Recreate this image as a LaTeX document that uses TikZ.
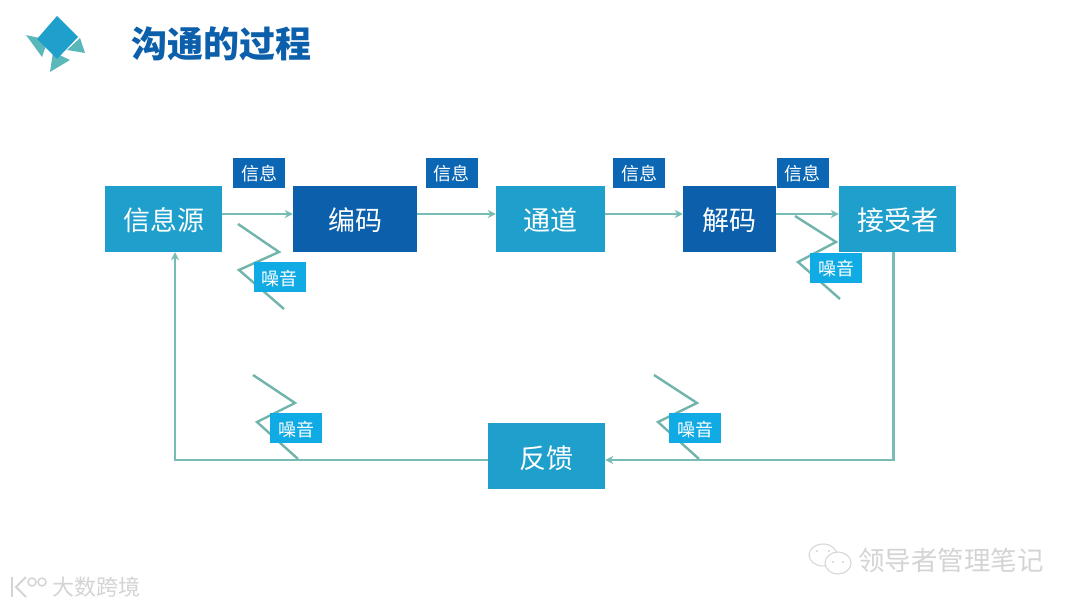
\documentclass[tikz,border=0pt]{standalone}
\usepackage{fontspec}
\setmainfont{Noto Sans CJK SC}
\newfontfamily\titlefont{Noto Sans CJK SC Black}
\usepackage{xcolor}
\usetikzlibrary{arrows.meta, calc}
\definecolor{boxlight}{HTML}{1F9FCB}
\definecolor{boxdark}{HTML}{0B5FAB}
\definecolor{tagdark}{HTML}{0B66B4}
\definecolor{tagnoise}{HTML}{10ABE5}
\definecolor{flowline}{HTML}{77BDB5}
\definecolor{logoteal}{HTML}{5BB8BA}
\definecolor{marktext}{HTML}{D4D4D4}

\begin{document}
\begin{tikzpicture}[
        x=1pt, y=-1pt,
        stage/.style={rectangle, fill=boxlight, text=white, minimum height=66pt, inner sep=0pt, text height=24pt, text depth=0pt, font={\fontsize{27}{30}\selectfont}},
        coder/.style={stage, fill=boxdark},
        msgtag/.style={rectangle, fill=tagdark, text=white, minimum width=52pt, minimum height=30pt, inner sep=0pt, text height=16pt, text depth=0pt, font={\fontsize{18}{22}\selectfont}},
        noisetag/.style={msgtag, fill=tagnoise},
        arrow/.style={line width=2.4pt, flowline, -{Stealth[length=8pt,width=8pt]}},
        zigzag/.style={line width=2.4pt, flowline!95!black},
        wmark/.style={text=marktext, inner sep=0pt}
    ]
        \useasboundingbox [fill=white] (0,0) rectangle (1080,607);

        % Logo and title
        \fill [logoteal] (26,35) -- (42,57) -- (48,40) -- cycle;
        \fill [logoteal] (85,53) -- (80,38) -- (67,50) -- cycle;
        \fill [logoteal] (50,72) -- (70,60) -- (53,52) -- cycle;
        \fill [boxlight] (57,16) -- (78,37) -- (57,59) -- (37,39) -- cycle;
        \node (title) [anchor=west, text=boxdark, inner sep=0pt, font={\fontsize{36}{40}\titlefont}] at (131,44) {沟通的过程};

        % Stages (Top Row)
        \node (source) [stage, minimum width=117pt] at (163.5,219) {信息源};
        \node (encode) [coder, minimum width=124pt] at (355,219) {编码};
        \node (channel) [stage, minimum width=109pt] at (550.5,219) {通道};
        \node (decode) [coder, minimum width=93pt] at (729.5,219) {解码};
        \node (receiver) [stage, minimum width=117pt] at (897.5,219) {接受者};

        % Feedback
        \node (feedback) [stage, minimum width=117pt] at (546.5,456) {反馈};

        % Message tags
        \node (msg1) [msgtag] at (259,173) {信息};
        \node (msg2) [msgtag] at (451.5,173) {信息};
        \node (msg3) [msgtag] at (639,173) {信息};
        \node (msg4) [msgtag] at (802.5,173) {信息};

        % Flows - Top row
        \draw [arrow] ([yshift=5pt]source.east) -- ([yshift=5pt]encode.west);
        \draw [arrow] ([yshift=5pt]encode.east) -- ([yshift=5pt]channel.west);
        \draw [arrow] ([yshift=5pt]channel.east) -- ([yshift=5pt]decode.west);
        \draw [arrow] ([yshift=5pt]decode.east) -- ([yshift=5pt]receiver.west);

        % Flows - Feedback loop
        \draw [arrow] ([xshift=-4pt]receiver.south) |- ([yshift=-4pt]feedback.east);
        \draw [arrow] ([yshift=-4pt]feedback.west) -| ([xshift=11.5pt]source.south);

        % Noise
        \draw [zigzag] (238,224) -- (279,252) -- (239,270) -- (284,309);
        \draw [zigzag] (795,216) -- (836,242) -- (798,262) -- (840,299);
        \draw [zigzag] (253,375) -- (295,403) -- (257,422) -- (298,459);
        \draw [zigzag] (654,375) -- (697,403) -- (658,422) -- (699,459);
        \node (noise1) [noisetag] at (279.5,277) {噪音};
        \node (noise2) [noisetag] at (836,267.5) {噪音};
        \node (noise3) [noisetag] at (296,428) {噪音};
        \node (noise4) [noisetag] at (695,428) {噪音};

        % Watermarks
        \node (markleft) [wmark, anchor=west, font={\fontsize{22}{26}\selectfont}] at (52,587) {大数跨境};
        \draw [marktext, line width=2pt] (12,577) -- (12,597);
        \draw [marktext, line width=2pt] (26,577) -- (16,587) -- (26,597);
        \draw [marktext, line width=1.5pt] (32,582) circle (4pt);
        \draw [marktext, line width=1.5pt] (42,582) circle (4pt);
        \node (markright) [wmark, anchor=west, font={\fontsize{26.5}{30}\selectfont}] at (858,560) {领导者管理笔记};
        \draw [marktext, line width=1pt] (823,555) ellipse (14pt and 11pt);
        \draw [marktext, line width=1pt, fill=white] (838,563) ellipse (13pt and 11pt);
        \fill [marktext] (817,551) circle (1.2pt) (829,551) circle (1.2pt) (833,562) circle (1.2pt) (843,562) circle (1.2pt);
    \end{tikzpicture}
\end{document}
